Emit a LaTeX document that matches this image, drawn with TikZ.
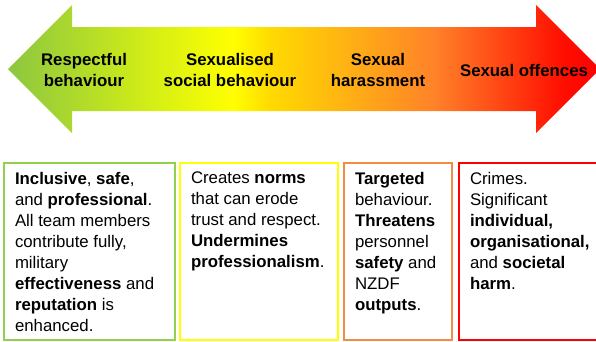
\documentclass[tikz,border=0pt]{standalone}
\usepackage{fontspec}
\setmainfont{Liberation Sans}
\pgfdeclarehorizontalshading{scaleshade}{100bp}{
  rgb(0bp)=(0.55,0.78,0.25); rgb(25bp)=(0.55,0.78,0.25);
  rgb(37.5bp)=(0.84,0.94,0.08); rgb(44bp)=(1,1,0);
  rgb(47bp)=(1,0.86,0); rgb(61bp)=(1,0.51,0.16);
  rgb(72bp)=(1,0.05,0); rgb(75bp)=(1,0,0); rgb(100bp)=(1,0,0)}
\begin{document}
\begin{tikzpicture}[x=1pt,y=-1pt,
  stage/.style={font=\fontsize{16.8}{21}\selectfont\bfseries,align=center},
  stagebox/.style={draw=#1,line width=2pt,anchor=north west,inner xsep=11pt,inner ysep=9pt,
                   outer sep=0pt,font=\fontsize{16.8}{21}\selectfont}]
  % colors
  \definecolor{kGreen}{RGB}{146,208,80}
  \definecolor{kYellow}{RGB}{255,255,0}
  \definecolor{kOrange}{RGB}{240,140,70}
  \definecolor{kRed}{RGB}{255,0,0}
  \clip (0,0) rectangle (596,341);
  % arrow
  \shade[shading=scaleshade] (8,69) -- (72,5) -- (72,27) -- (536,27) -- (536,5) -- (600,69)
                             -- (536,133) -- (536,111) -- (72,111) -- (72,133) -- cycle;
  % stages
  \node[stage] (respect) at (84,70) {Respectful\\behaviour};
  \node[stage] (social) at (230,70) {Sexualised\\social behaviour};
  \node[stage] (harass) at (378,70) {Sexual\\harassment};
  \node[stage] (offence) at (524,70) {Sexual offences};
  % boxes
  \node[stagebox=kGreen] (inclusive) at (4,163) {\parbox[t][159pt][t]{149pt}{\raggedright
    \textbf{Inclusive}, \textbf{safe},\\ and \textbf{professional}.\\ All team members\\
    contribute fully,\\ military\\ \textbf{effectiveness} and\\ \textbf{reputation} is\\ enhanced.}};
  \node[stagebox=kYellow] (norms) at (180,163) {\parbox[t][159pt][t]{136pt}{\raggedright
    Creates \textbf{norms}\\ that can erode\\ trust and respect.\\ \textbf{Undermines}\\
    \textbf{professionalism}.}};
  \node[stagebox=kOrange] (targeted) at (344,163) {\parbox[t][159pt][t]{86pt}{\raggedright
    \textbf{Targeted}\\ behaviour.\\ \textbf{Threatens}\\ personnel\\ \textbf{safety} and\\
    NZDF\\ \textbf{outputs}.}};
  \node[stagebox=kRed] (crimes) at (459,163) {\parbox[t][159pt][t]{130pt}{\raggedright
    Crimes.\\ Significant\\ \textbf{individual,}\\ \textbf{organisational,}\\
    and \textbf{societal}\\ \textbf{harm}.}};
\end{tikzpicture}
\end{document}
